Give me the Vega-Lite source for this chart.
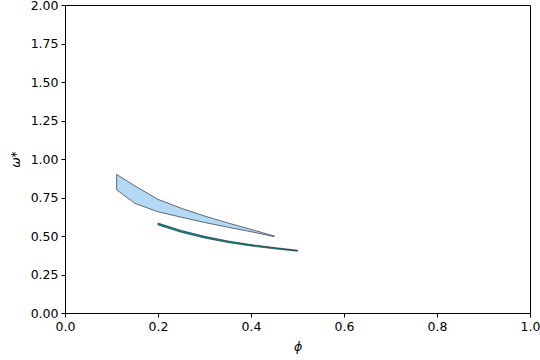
{
  "$schema": "https://vega.github.io/schema/vega-lite/v6.json",
  "width": 465,
  "height": 308,
  "autosize": {"type": "none"},
  "padding": {"left": 65, "top": 5, "right": 10, "bottom": 47},
  "background": "white",
  "config": {
    "view": {"stroke": "black", "strokeWidth": 1},
    "axis": {
      "labelFont": "DejaVu Sans", "labelFontSize": 12.5, "labelColor": "black",
      "titleFont": "DejaVu Sans", "titleFontSize": 12.5, "titleColor": "black", "titleFontWeight": "normal",
      "tickColor": "black", "tickSize": 4, "domainColor": "black", "grid": false, "labelPadding": 3,
      "labelOverlap": false, "labelFlush": false
    }
  },
  "data": {"values": [
    {"s": "A", "phi": 0.111, "lo": 0.80, "hi": 0.90},
    {"s": "A", "phi": 0.15, "lo": 0.712, "hi": 0.826},
    {"s": "A", "phi": 0.2, "lo": 0.657, "hi": 0.738},
    {"s": "A", "phi": 0.25, "lo": 0.622, "hi": 0.680},
    {"s": "A", "phi": 0.3, "lo": 0.588, "hi": 0.630},
    {"s": "A", "phi": 0.35, "lo": 0.557, "hi": 0.585},
    {"s": "A", "phi": 0.4, "lo": 0.528, "hi": 0.543},
    {"s": "A", "phi": 0.45, "lo": 0.496, "hi": 0.500},
    {"s": "B", "phi": 0.2, "lo": 0.572, "hi": 0.584},
    {"s": "B", "phi": 0.25, "lo": 0.524, "hi": 0.536},
    {"s": "B", "phi": 0.3, "lo": 0.487, "hi": 0.498},
    {"s": "B", "phi": 0.35, "lo": 0.458, "hi": 0.468},
    {"s": "B", "phi": 0.4, "lo": 0.435, "hi": 0.444},
    {"s": "B", "phi": 0.45, "lo": 0.417, "hi": 0.425},
    {"s": "B", "phi": 0.5, "lo": 0.401, "hi": 0.408}
  ]},
  "encoding": {
    "x": {"field": "phi", "type": "quantitative", "scale": {"domain": [0, 1], "nice": false},
      "axis": {"values": [0, 0.2, 0.4, 0.6, 0.8, 1.0], "format": ".1f", "title": "ϕ", "titleFontStyle": "italic", "titlePadding": 8, "labelOverlap": false, "labelFlush": false}},
    "y": {"field": "hi", "type": "quantitative", "scale": {"domain": [0, 2], "nice": false},
      "axis": {"values": [0, 0.25, 0.5, 0.75, 1.0, 1.25, 1.5, 1.75, 2.0], "format": ".2f", "title": "ω*", "titleFontStyle": "italic", "titlePadding": 8, "labelOverlap": false, "labelFlush": false, "labelBound": false}},
    "y2": {"field": "lo"}
  },
  "layer": [
    {
      "transform": [{"filter": "datum.s == 'A'"}],
      "mark": {"type": "area", "fill": "#b3d9f5", "stroke": "#111122", "strokeWidth": 0.6, "fillOpacity": 1}
    },
    {
      "transform": [{"filter": "datum.s == 'B'"}],
      "mark": {"type": "area", "fill": "#00a088", "stroke": "#111122", "strokeWidth": 0.6, "fillOpacity": 1}
    }
  ]
}
